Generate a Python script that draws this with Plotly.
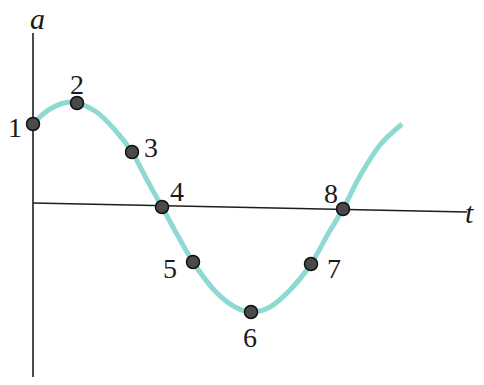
import plotly.graph_objects as go

# curve samples (t, a), origin where the axes cross
curve_t = [0, 17, 38, 62, 82, 99, 114, 129, 145, 160, 182, 202, 219, 237, 257, 278, 295, 310, 327, 347, 369]
curve_a = [81, 96, 103, 94, 75, 53, 25, -2, -31, -57, -86, -102, -107, -102, -85, -59, -29, -4, 29, 60, 81]

# numbered points
point_labels = ["1", "2", "3", "4", "5", "6", "7", "8"]
point_t = [0, 44, 99, 129, 160, 218, 278, 310]
point_a = [81, 102, 53, -2, -57, -107, -59, -4]

# where each number sits
label_t = [-18, 44, 118, 144, 137, 217, 301, 298]
label_a = [78, 121, 58, 14, -63, -132, -63, 12]

fig = go.Figure()

# axes drawn as plain lines (the scan is slightly tilted)
fig.add_trace(go.Scatter(x=[0, 0], y=[172, -178], mode="lines",
                         line=dict(color="#1e1e1e", width=1.6), hoverinfo="skip"))
fig.add_trace(go.Scatter(x=[0, 434], y=[2, -7], mode="lines",
                         line=dict(color="#1e1e1e", width=1.6), hoverinfo="skip"))

fig.add_trace(go.Scatter(x=curve_t, y=curve_a, mode="lines",
                         line=dict(color="#8fd9d3", width=5, shape="spline", smoothing=1.0),
                         hoverinfo="skip"))

fig.add_trace(go.Scatter(x=point_t, y=point_a, mode="markers",
                         marker=dict(size=13, color="#4a4a4a",
                                     line=dict(color="#111111", width=1.5)),
                         text=point_labels, hoverinfo="text"))

for lab, tx, ay in zip(point_labels, label_t, label_a):
    fig.add_annotation(x=tx, y=ay, text=lab, showarrow=False,
                       xanchor="center", yanchor="middle",
                       font=dict(family="Liberation Serif", size=28, color="#1a1a1a"))

fig.add_annotation(x=4, y=187, text="<i>a</i>", showarrow=False,
                   xanchor="center", yanchor="middle",
                   font=dict(family="Liberation Serif", size=30, color="#1a1a1a"))
fig.add_annotation(x=443, y=-7, text="<i>t</i>", showarrow=False,
                   xanchor="right", yanchor="middle",
                   font=dict(family="Liberation Serif", size=30, color="#1a1a1a"))

# the page body adds an 8px margin on every side, so the figure is 16px
# smaller than the window and the ranges are shifted by 8 units
fig.update_layout(
    width=468, height=369,
    margin=dict(l=0, r=0, t=0, b=0),
    paper_bgcolor="white", plot_bgcolor="white",
    showlegend=False,
    xaxis=dict(range=[-25, 443], visible=False, fixedrange=True),
    yaxis=dict(range=[-172, 197], visible=False, fixedrange=True),
)

fig.write_html("out.html", config={"displayModeBar": False})
